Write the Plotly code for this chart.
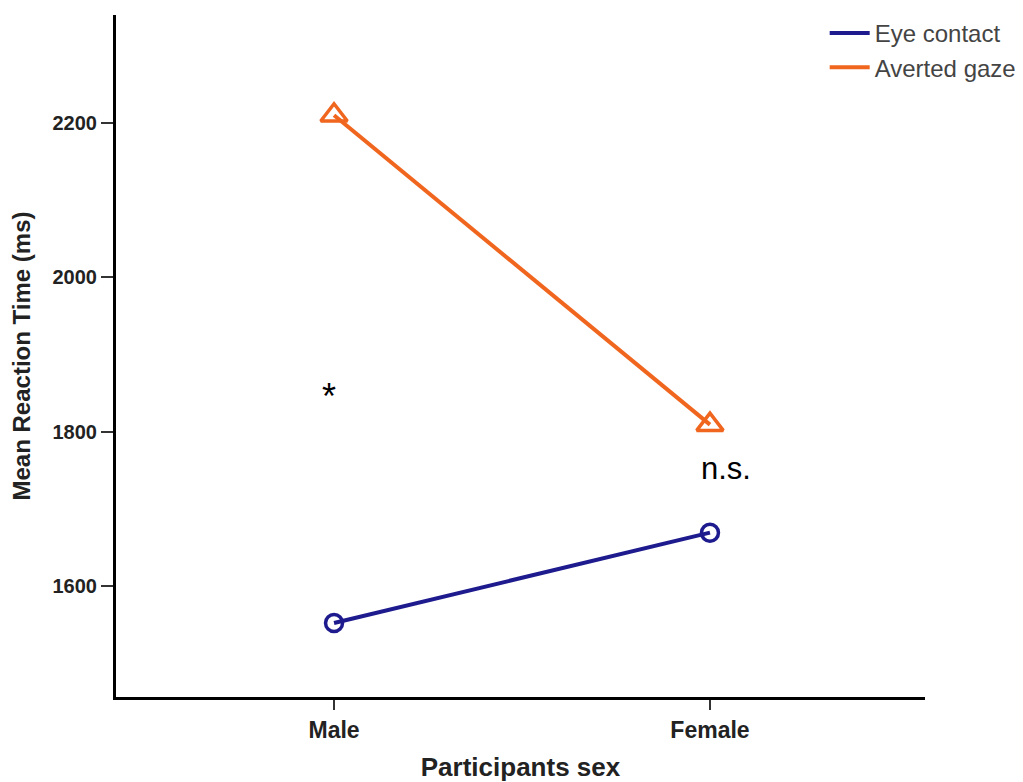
import plotly.graph_objects as go

categories = ["Male", "Female"]
eye_contact = [1552, 1669]
averted_gaze = [2210, 1809]
y_ticks = [1600, 1800, 2000, 2200]

blue = "#1E1B8E"
orange = "#F0661E"
FONT = "Liberation Sans, Arial"

fig = go.Figure()
fig.add_trace(go.Scatter(
    x=categories, y=eye_contact, name="Eye contact", mode="lines+markers",
    line=dict(color=blue, width=4), showlegend=False,
    marker=dict(symbol="circle-open", size=17, color=blue, line=dict(width=3.5, color=blue)),
))
fig.add_trace(go.Scatter(
    x=categories, y=averted_gaze, name="Averted gaze", mode="lines+markers",
    line=dict(color=orange, width=4), showlegend=False,
    marker=dict(symbol="triangle-up-open", size=23, color=orange, line=dict(width=3.5, color=orange)),
))
# legend entries (line only, as in the reference)
fig.add_trace(go.Scatter(x=[None], y=[None], name="Eye contact", mode="lines",
                         line=dict(color=blue, width=4)))
fig.add_trace(go.Scatter(x=[None], y=[None], name="Averted gaze", mode="lines",
                         line=dict(color=orange, width=4)))

fig.add_annotation(x="Male", y=1846, text="*", showarrow=False,
                   font=dict(family=FONT, size=36, color="black"), xshift=-5)
fig.add_annotation(x="Female", y=1752, text="n.s.", showarrow=False,
                   font=dict(family=FONT, size=31, color="black"), xshift=16)

fig.update_layout(
    width=1023, height=782,
    margin=dict(l=108, r=106, t=7, b=93, autoexpand=False),
    paper_bgcolor="white", plot_bgcolor="white",
    font=dict(family=FONT, color="black"),
    showlegend=True,
    legend=dict(x=0.876, y=1.006, xanchor="left", yanchor="top",
                font=dict(size=24, color="#444444"), itemwidth=40,
                bgcolor="rgba(0,0,0,0)", tracegroupgap=0),
    xaxis=dict(
        type="category", range=[-0.58, 1.572],
        showline=True, linecolor="black", linewidth=3,
        ticks="outside", ticklen=10, tickwidth=1.5, tickcolor="#333333",
        tickfont=dict(size=23, weight="bold", color="#222222"),
        showgrid=False, zeroline=False,
        title=dict(text="Participants sex", font=dict(size=26, weight="bold", color="#222222"), standoff=17),
    ),
    yaxis=dict(
        range=[1456, 2340], tickvals=y_ticks,
        showline=True, linecolor="black", linewidth=3,
        ticks="outside", ticklen=12, tickwidth=1.5, tickcolor="#333333",
        tickfont=dict(size=20, weight="bold", color="#222222"),
        showgrid=False, zeroline=False,
        title=dict(text="Mean Reaction Time (ms)", font=dict(size=24, weight="bold", color="#222222"), standoff=16),
    ),
)

fig.write_html("out.html")
